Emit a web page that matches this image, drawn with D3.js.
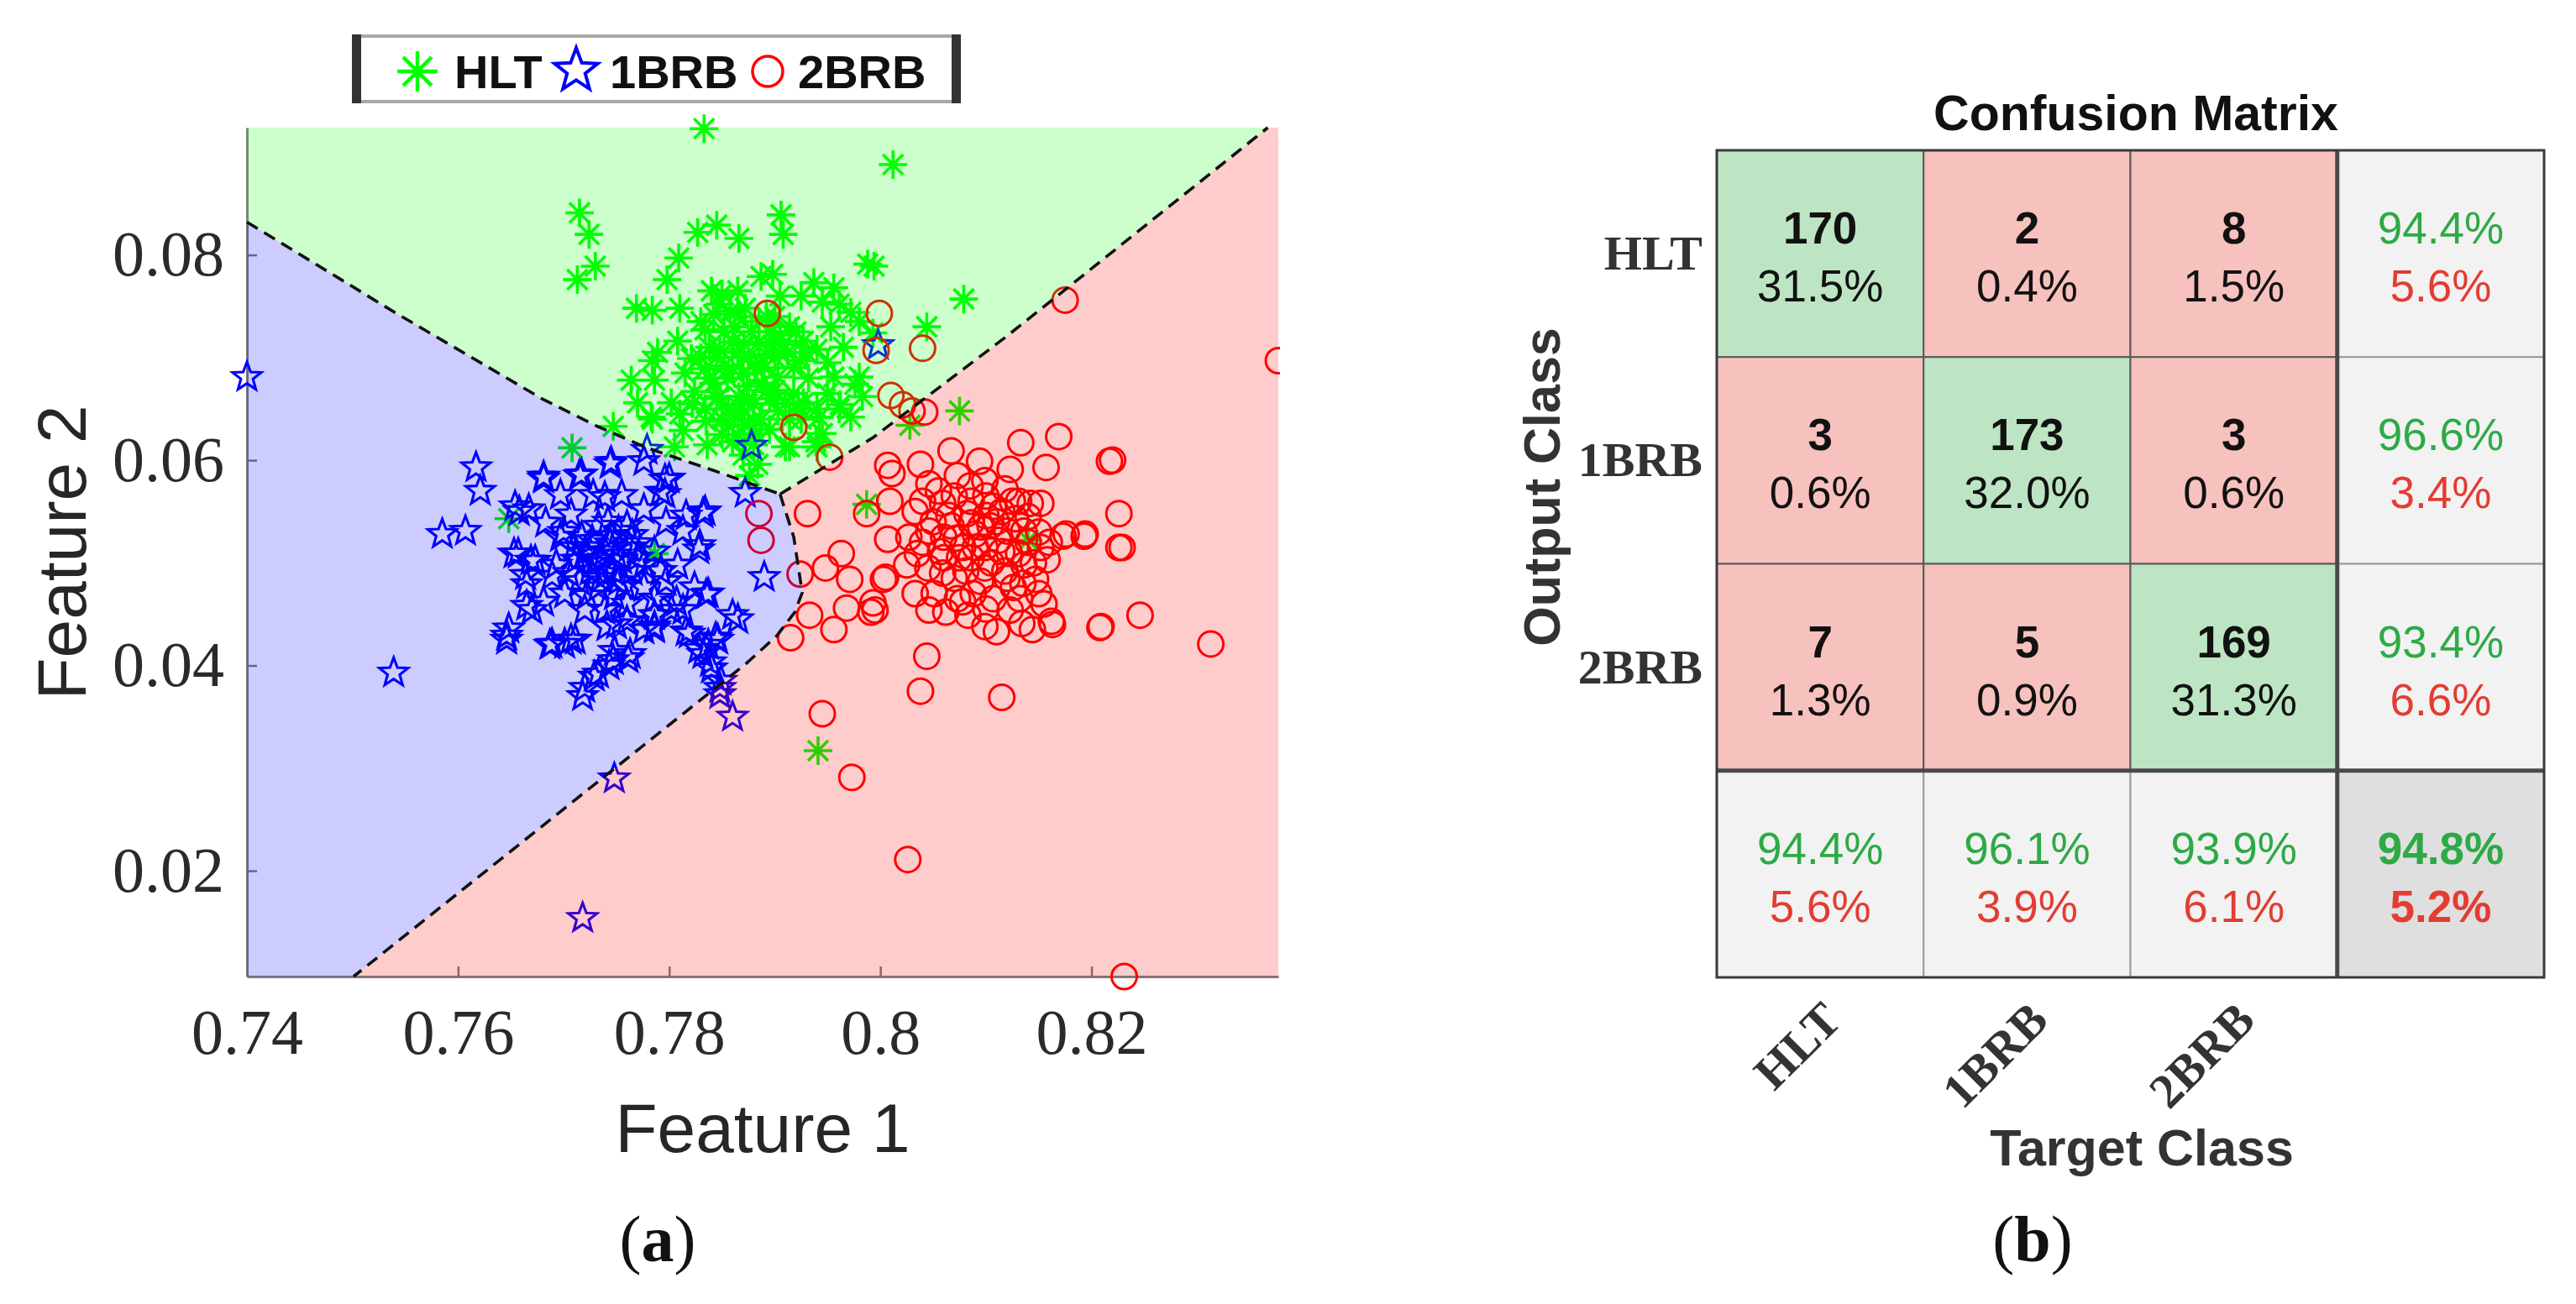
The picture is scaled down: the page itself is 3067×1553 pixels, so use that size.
<!DOCTYPE html>
<html>
<head>
<meta charset="utf-8">
<script src="https://cdn.jsdelivr.net/npm/d3@7"></script>
<style>
  body { margin: 0; background: #fff; }
  svg { display: block; }
</style>
</head>
<body>
<svg id="fig"></svg>
<script>
// ---- panel (a): scatter data, [feature1, feature2] ----
const hltPoints = [
  [0.7833,0.0923],[0.8012,0.0888],[0.7715,0.0841],[0.7724,0.0820],[0.7730,0.0789],[0.7713,0.0776],
  [0.7827,0.0822],[0.7845,0.0829],[0.7866,0.0816],[0.7906,0.0839],[0.7908,0.0820],[0.7994,0.0789],
  [0.8079,0.0757],[0.8044,0.0730],[0.8075,0.0648],[0.7708,0.0612],[0.8028,0.0634],[0.7987,0.0557],
  [0.7747,0.0633],[0.7941,0.0317],[0.7648,0.0543],[0.7786,0.0509],[0.8140,0.0522],[0.7876,0.0585],
  [0.7783,0.0642],[0.7962,0.0654],[0.7976,0.0674],[0.7942,0.0642],[0.7922,0.0654],[0.7910,0.0613],
  [0.7939,0.0618],[0.7884,0.0596],
  [0.7809,0.0797],[0.7798,0.0776],[0.7769,0.0748],[0.7784,0.0746],[0.7810,0.0748],[0.7850,0.0762],
  [0.7848,0.0752],[0.7887,0.0779],[0.7898,0.0781],[0.7937,0.0773],[0.7956,0.0768],[0.7945,0.0754],
  [0.7961,0.0752],[0.7988,0.0791],[0.7980,0.0735],[0.7953,0.0730],[0.7927,0.0716],[0.7914,0.0730],
  [0.7892,0.0740],[0.7866,0.0740],[0.7834,0.0727],[0.7808,0.0716],[0.7789,0.0705],[0.7784,0.0697],
  [0.7764,0.0678],[0.7786,0.0678],[0.7770,0.0656],[0.7802,0.0656],[0.7810,0.0645],[0.7784,0.0640],
  [0.7813,0.0629],[0.7836,0.0615],[0.7805,0.0613],[0.7834,0.0650],[0.7856,0.0650],[0.7871,0.0634],
  [0.7887,0.0640],[0.7866,0.0662],[0.7892,0.0667],[0.7903,0.0681],[0.7882,0.0689],[0.7860,0.0689],
  [0.7834,0.0689],[0.7824,0.0667],[0.7848,0.0708],[0.7871,0.0713],[0.7892,0.0703],[0.7908,0.0713],
  [0.7924,0.0697],[0.7940,0.0708],[0.7956,0.0681],[0.7980,0.0681],[0.7927,0.0656],[0.7940,0.0650],
  [0.7961,0.0650],[0.7983,0.0662],[0.7972,0.0642],[0.7945,0.0626],[0.7914,0.0613],[0.7940,0.0613],
  [0.7842,0.0675],[0.7821,0.0699],[0.7874,0.0672],[0.7856,0.0634],[0.7868,0.0650],[0.7848,0.0662],
  [0.7882,0.0626],[0.7860,0.0618],[0.7903,0.0648],[0.7914,0.0640],[0.7972,0.0744],[0.7993,0.0724],
  [0.7845,0.0700],[0.7860,0.0715],[0.7875,0.0700],[0.7890,0.0690],[0.7855,0.0680],[0.7870,0.0685],
  [0.7880,0.0655],[0.7895,0.0660],[0.7850,0.0640],[0.7865,0.0625],[0.7880,0.0640],[0.7900,0.0700],
  [0.7838,0.0710],[0.7862,0.0730],[0.7878,0.0725],[0.7852,0.0725],[0.7895,0.0725],[0.7918,0.0690],
  [0.7918,0.0665],[0.7845,0.0660],
  [0.7830,0.0735],[0.7842,0.0742],[0.7858,0.0745],[0.7872,0.0748],[0.7885,0.0735],[0.7900,0.0740],
  [0.7905,0.0722],[0.7920,0.0725],[0.7930,0.0705],[0.7912,0.0705],[0.7898,0.0712],[0.7885,0.0715],
  [0.7865,0.0705],[0.7852,0.0692],[0.7838,0.0680],[0.7830,0.0700],[0.7815,0.0685],[0.7822,0.0655],
  [0.7835,0.0638],[0.7850,0.0625],[0.7862,0.0645],[0.7875,0.0660],[0.7888,0.0675],[0.7900,0.0668],
  [0.7910,0.0655],[0.7925,0.0640],[0.7932,0.0680],[0.7950,0.0695],[0.7965,0.0710],[0.7950,0.0665],
  [0.7895,0.0630],[0.7880,0.0615],[0.7870,0.0605],[0.7925,0.0760],[0.7905,0.0760],[0.7865,0.0765],
  [0.7840,0.0765]
];
const brb1Points = [
  [0.7400,0.0681],[0.7539,0.0393],[0.7617,0.0593],[0.7621,0.0570],[0.7585,0.0528],[0.7607,0.0531],
  [0.7718,0.0154],[0.7748,0.0290],[0.7860,0.0350],[0.7848,0.0372],[0.7849,0.0385],[0.7718,0.0370],
  [0.7729,0.0389],[0.7743,0.0400],[0.7761,0.0407],[0.7748,0.0414],[0.7646,0.0425],[0.7648,0.0436],
  [0.7687,0.0420],[0.7701,0.0421],[0.7711,0.0425],[0.7839,0.0403],[0.7837,0.0420],[0.7846,0.0425],
  [0.7865,0.0445],[0.7828,0.0416],[0.7819,0.0431],[0.7890,0.0486],[0.7832,0.0548],[0.7835,0.0469],
  [0.7828,0.0513],[0.7872,0.0568],[0.7878,0.0614],[0.7779,0.0610],[0.7745,0.0598],[0.7717,0.0586],
  [0.7681,0.0584],[0.7658,0.0550],[0.7653,0.0509],[0.7664,0.0488],[0.7669,0.0502],[0.7665,0.0458],
  [0.7796,0.0581],[0.7796,0.0567],[0.7816,0.0546],[0.7807,0.0462],[0.7786,0.0436],[0.7750,0.0440],
  [0.7998,0.0712],
  [0.7681,0.0582],[0.7715,0.0585],[0.7744,0.0596],[0.7776,0.0599],[0.7800,0.0582],[0.7792,0.0569],
  [0.7834,0.0550],[0.7829,0.0517],[0.7860,0.0449],[0.7837,0.0470],[0.7824,0.0476],[0.7813,0.0454],
  [0.7816,0.0433],[0.7844,0.0427],[0.7832,0.0411],[0.7840,0.0397],[0.7848,0.0378],[0.7763,0.0411],
  [0.7747,0.0405],[0.7733,0.0392],[0.7720,0.0378],[0.7707,0.0425],[0.7689,0.0421],[0.7646,0.0429],
  [0.7670,0.0454],[0.7665,0.0479],[0.7657,0.0509],[0.7673,0.0502],[0.7667,0.0552],[0.7654,0.0555],
  [0.7697,0.0566],[0.7683,0.0539],[0.7776,0.0435],[0.7786,0.0438],[0.7741,0.0438],[0.7760,0.0443],
  [0.7786,0.0465],[0.7797,0.0482],[0.7808,0.0498],[0.7813,0.0531],[0.7797,0.0539],[0.7776,0.0552],
  [0.7755,0.0566],[0.7728,0.0566],[0.7707,0.0547],[0.7697,0.0525],[0.7693,0.0498],[0.7701,0.0470],
  [0.7720,0.0454],[0.7739,0.0454],[0.7760,0.0460],[0.7776,0.0476],[0.7776,0.0498],[0.7770,0.0519],
  [0.7752,0.0531],[0.7733,0.0536],[0.7717,0.0525],[0.7712,0.0503],[0.7715,0.0482],[0.7733,0.0476],
  [0.7752,0.0482],[0.7755,0.0503],[0.7733,0.0503],[0.7744,0.0519],[0.7725,0.0492],[0.7747,0.0492],
  [0.7765,0.0492],[0.7739,0.0511],[0.7723,0.0515],[0.7760,0.0536],[0.7786,0.0511],[0.7792,0.0492],
  [0.7689,0.0487],[0.7681,0.0462],[0.7786,0.0449],[0.7802,0.0454],[0.7739,0.0564],
  [0.7730,0.0500],[0.7740,0.0490],[0.7720,0.0510],[0.7750,0.0508],[0.7735,0.0485],[0.7727,0.0522],
  [0.7745,0.0526],[0.7762,0.0515],[0.7710,0.0515],[0.7758,0.0478],[0.7770,0.0505],[0.7705,0.0490],
  [0.7722,0.0468],[0.7748,0.0468],[0.7700,0.0530],[0.7742,0.0540],[0.7765,0.0527]
];
const brb2Points = [
  [0.8377,0.0697],[0.8026,0.0211],[0.7973,0.0291],[0.7945,0.0353],[0.8038,0.0375],[0.8115,0.0369],
  [0.8044,0.0409],[0.8313,0.0421],[0.8246,0.0449],[0.8208,0.0437],[0.8226,0.0548],[0.8226,0.0515],
  [0.8217,0.0599],[0.8169,0.0623],[0.8133,0.0617],[0.8157,0.0593],[0.8193,0.0526],[0.8173,0.0526],
  [0.8163,0.0440],[0.7915,0.0427],[0.7933,0.0449],[0.7956,0.0435],[0.7931,0.0548],[0.7987,0.0548],
  [0.7963,0.0509],[0.7948,0.0495],[0.7971,0.0484],[0.8003,0.0484],[0.7968,0.0456],[0.7991,0.0452],
  [0.7993,0.0461],[0.7924,0.0489],[0.7885,0.0548],[0.7887,0.0522],[0.8007,0.0595],[0.8010,0.0663],
  [0.8021,0.0654],[0.8030,0.0648],[0.8042,0.0647],[0.7918,0.0632],[0.7952,0.0603],[0.7893,0.0743],
  [0.7999,0.0743],[0.7996,0.0707],[0.8040,0.0709],[0.8175,0.0756],[0.8231,0.0097],
  [0.8220,0.0600],[0.8229,0.0515],[0.8194,0.0528],[0.8176,0.0528],[0.8209,0.0438],[0.8005,0.0486],
  [0.7995,0.0454],[0.8011,0.0587],[0.8009,0.0560],[0.8007,0.0523],[0.8025,0.0498],[0.8033,0.0470],
  [0.8046,0.0454],[0.8062,0.0452],[0.8073,0.0465],[0.8083,0.0449],[0.8099,0.0438],[0.8110,0.0433],
  [0.8123,0.0454],[0.8134,0.0441],[0.8144,0.0435],[0.8150,0.0470],[0.8147,0.0484],[0.8162,0.0443],
  [0.8158,0.0503],[0.8152,0.0515],[0.8142,0.0558],[0.8152,0.0558],[0.8123,0.0591],[0.8094,0.0599],
  [0.8067,0.0609],[0.8038,0.0596],[0.8046,0.0577],[0.8073,0.0585],[0.8099,0.0580],[0.8118,0.0572],
  [0.8131,0.0560],[0.8033,0.0550],[0.8059,0.0558],[0.8086,0.0560],[0.8107,0.0555],[0.8027,0.0525],
  [0.8046,0.0531],[0.8067,0.0536],[0.8086,0.0539],[0.8104,0.0536],[0.8120,0.0531],[0.8136,0.0531],
  [0.8035,0.0509],[0.8057,0.0511],[0.8078,0.0515],[0.8099,0.0515],[0.8115,0.0511],[0.8131,0.0509],
  [0.8059,0.0490],[0.8081,0.0492],[0.8099,0.0495],[0.8118,0.0492],[0.8136,0.0498],[0.8051,0.0470],
  [0.8088,0.0470],[0.8107,0.0465],[0.8126,0.0476],
  [0.8090,0.0528],[0.8112,0.0522],[0.8072,0.0524],[0.8100,0.0546],[0.8122,0.0510],[0.8065,0.0546],
  [0.8086,0.0505],[0.8128,0.0543],[0.8095,0.0482],[0.8140,0.0520],
  [0.8040,0.0560],[0.8055,0.0570],[0.8070,0.0565],[0.8085,0.0575],[0.8100,0.0565],[0.8115,0.0550],
  [0.8125,0.0560],[0.8140,0.0545],[0.8050,0.0540],[0.8060,0.0525],[0.8075,0.0505],[0.8090,0.0515],
  [0.8105,0.0500],[0.8120,0.0485],[0.8135,0.0480],[0.8145,0.0500],[0.8150,0.0530],[0.8160,0.0520],
  [0.8070,0.0485],[0.8060,0.0505],[0.8040,0.0520],[0.8082,0.0548],[0.8095,0.0535],[0.8110,0.0540],
  [0.8045,0.0495],[0.8078,0.0462],[0.8100,0.0455],[0.8132,0.0465],[0.8155,0.0460]
];

// decision boundaries (data units)
const bndGreenBlue = [[0.7400,0.0832],[0.7540,0.0744],[0.7681,0.0659],[0.7732,0.0633],[0.7779,0.0612],[0.7842,0.0590],[0.7905,0.0567]];
const bndGreenRed = [[0.7905,0.0567],[0.7993,0.0622],[0.8120,0.0721],[0.8181,0.0771],[0.8367,0.0924]];
const bndBlueRed = [[0.7905,0.0567],[0.7918,0.0525],[0.7926,0.0471],[0.7919,0.0452],[0.7902,0.0429],[0.7873,0.0402],[0.7501,0.0097]];

const xLimits = [0.74, 0.8377];
const yLimits = [0.0097, 0.0924];
const xTicks = [0.74, 0.76, 0.78, 0.8, 0.82];
const yTicks = [0.02, 0.04, 0.06, 0.08];

// ---- panel (b): confusion matrix ----
const classNames = ['HLT', '1BRB', '2BRB'];
const confCounts = [
  [170, 2, 8],
  [3, 173, 3],
  [7, 5, 169]
];

// ---------------------------------------------------------------
const W = 3067, H = 1553;
const svg = d3.select('#fig').attr('width', W).attr('height', H);
svg.append('rect').attr('width', W).attr('height', H).attr('fill', '#fff');

const SANS = "'Liberation Sans', Arial, sans-serif";
const SERIF = "'Liberation Serif', 'Times New Roman', serif";
const BLUE = '#0000ff', RED = '#ff0000', GREEN = '#00ff00';

const x = d3.scaleLinear().domain(xLimits).range([294, 1522]);
const y = d3.scaleLinear().domain(yLimits).range([1163, 152]);

function asteriskPath(r) {
  const d = r * Math.SQRT1_2;
  return `M${-r},0H${r}M0,${-r}V${r}M${-d},${-d}L${d},${d}M${-d},${d}L${d},${-d}`;
}
function starPath(R, ratio) {
  const pts = d3.range(10).map(k => {
    const a = -Math.PI / 2 + k * Math.PI / 5;
    const rr = k % 2 ? R * ratio : R;
    return [rr * Math.cos(a), rr * Math.sin(a)];
  });
  return d3.line()(pts) + 'Z';
}

// axes go under the translucent regions
const axisColor = '#7c7c7c';
const gx = svg.append('g').attr('transform', 'translate(0,1163)')
  .call(d3.axisBottom(x).tickValues(xTicks).tickFormat(d3.format('')).tickSize(-12).tickSizeOuter(0).tickPadding(38));
const gy = svg.append('g').attr('transform', 'translate(294,0)')
  .call(d3.axisLeft(y).tickValues(yTicks).tickFormat(d3.format('')).tickSize(-12).tickSizeOuter(0).tickPadding(27));
[gx, gy].forEach(g => {
  g.select('.domain').attr('stroke', axisColor).attr('stroke-width', 3);
  g.selectAll('.tick line').attr('stroke', axisColor).attr('stroke-width', 2.5);
  g.selectAll('.tick text').attr('font-family', SERIF).attr('font-size', 76).attr('fill', '#2a2a2a');
});

// markers
svg.append('clipPath').attr('id', 'panelA').append('rect').attr('x', 0).attr('y', 0).attr('width', 1524).attr('height', H);
const marks = svg.append('g').attr('clip-path', 'url(#panelA)');

marks.append('g').selectAll('path').data(hltPoints).join('path')
  .attr('d', asteriskPath(17))
  .attr('transform', d => `translate(${x(d[0])},${y(d[1])})`)
  .attr('fill', 'none').attr('stroke', GREEN).attr('stroke-width', 3.6);

marks.append('g').selectAll('path').data(brb1Points).join('path')
  .attr('d', starPath(18, 0.42))
  .attr('transform', d => `translate(${x(d[0])},${y(d[1])})`)
  .attr('fill', 'none').attr('stroke', BLUE).attr('stroke-width', 3.1).attr('stroke-linejoin', 'miter');

marks.append('g').selectAll('circle').data(brb2Points).join('circle')
  .attr('cx', d => x(d[0])).attr('cy', d => y(d[1])).attr('r', 15)
  .attr('fill', 'none').attr('stroke', RED).attr('stroke-width', 3);

// translucent class regions on top of markers
const [xmin, xmax] = xLimits, [ymin, ymax] = yLimits;
const greenPoly = [[xmin, ymax], ...bndGreenRed.slice().reverse(), ...bndGreenBlue.slice().reverse()];
const bluePoly = [...bndGreenBlue, ...bndBlueRed.slice(1), [xmin, ymin]];
const redPoly = [...bndGreenRed, [xmax, ymax], [xmax, ymin], ...bndBlueRed.slice().reverse()];
const line = d3.line().x(d => x(d[0])).y(d => y(d[1]));

svg.append('g').selectAll('path')
  .data([[greenPoly, GREEN], [bluePoly, BLUE], [redPoly, RED]]).join('path')
  .attr('d', d => line(d[0]) + 'Z')
  .attr('fill', d => d[1]).attr('fill-opacity', 0.2).attr('stroke', 'none');

svg.append('g').selectAll('path')
  .data([bndGreenBlue, bndGreenRed, bndBlueRed]).join('path')
  .attr('d', line)
  .attr('fill', 'none').attr('stroke', '#111').attr('stroke-width', 3.6).attr('stroke-dasharray', '15 9');

// axis titles
svg.append('text').attr('x', 908).attr('y', 1372).attr('text-anchor', 'middle')
  .attr('font-family', SANS).attr('font-size', 82).attr('fill', '#262626').text('Feature 1');
svg.append('text').attr('transform', 'translate(102,658) rotate(-90)').attr('text-anchor', 'middle')
  .attr('font-family', SANS).attr('font-size', 82).attr('fill', '#262626').text('Feature 2');

// legend
const leg = svg.append('g');
leg.append('rect').attr('x', 421).attr('y', 43).attr('width', 721).attr('height', 78)
  .attr('fill', '#fff').attr('stroke', '#a8a8a8').attr('stroke-width', 4);
leg.append('rect').attr('x', 419).attr('y', 41).attr('width', 11).attr('height', 82).attr('fill', '#333');
leg.append('rect').attr('x', 1133).attr('y', 41).attr('width', 11).attr('height', 82).attr('fill', '#333');
const legItems = [
  { name: classNames[0], mx: 497, tx: 541 },
  { name: classNames[1], mx: 686, tx: 726 },
  { name: classNames[2], mx: 914, tx: 950 }
];
leg.append('path').attr('d', asteriskPath(24)).attr('transform', `translate(${legItems[0].mx},85)`)
  .attr('fill', 'none').attr('stroke', GREEN).attr('stroke-width', 4.5);
leg.append('path').attr('d', starPath(27, 0.42)).attr('transform', `translate(${legItems[1].mx},84)`)
  .attr('fill', 'none').attr('stroke', BLUE).attr('stroke-width', 4);
leg.append('circle').attr('cx', legItems[2].mx).attr('cy', 85).attr('r', 18)
  .attr('fill', 'none').attr('stroke', RED).attr('stroke-width', 3.5);
leg.selectAll('text.item').data(legItems).join('text').attr('class', 'item')
  .attr('x', d => d.tx).attr('y', 105)
  .attr('font-family', SANS).attr('font-weight', 'bold').attr('font-size', 56).attr('fill', '#111')
  .text(d => d.name);

// panel label (a)
const labA = svg.append('text').attr('x', 783).attr('y', 1502).attr('text-anchor', 'middle')
  .attr('font-family', SERIF).attr('font-size', 78).attr('fill', '#111');
labA.append('tspan').text('(');
labA.append('tspan').attr('font-weight', 'bold').text('a');
labA.append('tspan').text(')');

// ---------------- confusion matrix ----------------
const n = classNames.length;
const cmX0 = 2044, cmY0 = 179, cmSize = 985;
const cell = cmSize / (n + 1);
const total = d3.sum(confCounts.flat());
const rowSums = confCounts.map(r => d3.sum(r));
const colSums = classNames.map((_, j) => d3.sum(confCounts, r => r[j]));
const correct = d3.sum(classNames, (_, i) => confCounts[i][i]);
const pct = v => d3.format('.1f')(v * 100) + '%';

const cells = [];
for (let i = 0; i <= n; i++) {
  for (let j = 0; j <= n; j++) {
    let c;
    if (i < n && j < n) {
      c = { fill: i === j ? '#bde5c4' : '#f7c1be', top: String(confCounts[i][j]), bot: pct(confCounts[i][j] / total),
            topColor: '#111', botColor: '#111', topBold: true, botBold: false };
    } else if (i < n && j === n) {
      const p = confCounts[i][i] / rowSums[i];
      c = { fill: '#f2f2f2', top: pct(p), bot: pct(1 - p), topColor: '#2daa46', botColor: '#e43c32', topBold: false, botBold: false };
    } else if (i === n && j < n) {
      const p = confCounts[j][j] / colSums[j];
      c = { fill: '#f2f2f2', top: pct(p), bot: pct(1 - p), topColor: '#2daa46', botColor: '#e43c32', topBold: false, botBold: false };
    } else {
      const p = correct / total;
      c = { fill: '#dfdfdf', top: pct(p), bot: pct(1 - p), topColor: '#2daa46', botColor: '#e43c32', topBold: true, botBold: true };
    }
    c.i = i; c.j = j;
    cells.push(c);
  }
}

const cm = svg.append('g');
cm.selectAll('rect.cell').data(cells).join('rect').attr('class', 'cell')
  .attr('x', d => cmX0 + d.j * cell).attr('y', d => cmY0 + d.i * cell)
  .attr('width', cell).attr('height', cell)
  .attr('fill', d => d.fill)
  .attr('stroke', d => (d.i < n && d.j < n) ? '#5a5a5a' : '#9a9a9a').attr('stroke-width', 2);

cm.selectAll('text.top').data(cells).join('text').attr('class', 'top')
  .attr('x', d => cmX0 + (d.j + 0.5) * cell).attr('y', d => cmY0 + (d.i + 0.5) * cell - 12)
  .attr('text-anchor', 'middle').attr('font-family', SANS).attr('font-size', 53)
  .attr('font-weight', d => d.topBold ? 'bold' : 'normal').attr('fill', d => d.topColor).text(d => d.top);
cm.selectAll('text.bot').data(cells).join('text').attr('class', 'bot')
  .attr('x', d => cmX0 + (d.j + 0.5) * cell).attr('y', d => cmY0 + (d.i + 0.5) * cell + 57)
  .attr('text-anchor', 'middle').attr('font-family', SANS).attr('font-size', 53)
  .attr('font-weight', d => d.botBold ? 'bold' : 'normal').attr('fill', d => d.botColor).text(d => d.bot);

// heavy separators and frame
const sep = cmX0 + n * cell, sepY = cmY0 + n * cell;
cm.append('line').attr('x1', sep).attr('x2', sep).attr('y1', cmY0).attr('y2', cmY0 + cmSize)
  .attr('stroke', '#4a4a4a').attr('stroke-width', 5);
cm.append('line').attr('x1', cmX0).attr('x2', cmX0 + cmSize).attr('y1', sepY).attr('y2', sepY)
  .attr('stroke', '#4a4a4a').attr('stroke-width', 5);
cm.append('rect').attr('x', cmX0).attr('y', cmY0).attr('width', cmSize).attr('height', cmSize)
  .attr('fill', 'none').attr('stroke', '#3a3a3a').attr('stroke-width', 3);

// titles and class labels
svg.append('text').attr('x', 2543).attr('y', 155).attr('text-anchor', 'middle')
  .attr('font-family', SANS).attr('font-weight', 'bold').attr('font-size', 59).attr('fill', '#111')
  .text('Confusion Matrix');
svg.append('text').attr('x', 2550).attr('y', 1388).attr('text-anchor', 'middle')
  .attr('font-family', SANS).attr('font-weight', 'bold').attr('font-size', 61).attr('fill', '#333')
  .text('Target Class');
svg.append('text').attr('transform', 'translate(1857,580) rotate(-90)').attr('text-anchor', 'middle')
  .attr('font-family', SANS).attr('font-weight', 'bold').attr('font-size', 61).attr('fill', '#333')
  .text('Output Class');

svg.append('g').selectAll('text').data(classNames).join('text')
  .attr('x', 2027).attr('y', (d, i) => cmY0 + (i + 0.5) * cell + 19)
  .attr('text-anchor', 'end').attr('font-family', SERIF).attr('font-weight', 'bold')
  .attr('font-size', 58).attr('fill', '#333').text(d => d);

svg.append('g').selectAll('text').data(classNames).join('text')
  .attr('transform', (d, j) => `translate(${cmX0 + (j + 0.5) * cell + 28},1218) rotate(-45)`)
  .attr('text-anchor', 'end').attr('font-family', SERIF).attr('font-weight', 'bold')
  .attr('font-size', 58).attr('fill', '#333').text(d => d);

const labB = svg.append('text').attr('x', 2420).attr('y', 1502).attr('text-anchor', 'middle')
  .attr('font-family', SERIF).attr('font-size', 78).attr('fill', '#111');
labB.append('tspan').text('(');
labB.append('tspan').attr('font-weight', 'bold').text('b');
labB.append('tspan').text(')');
</script>
</body>
</html>
